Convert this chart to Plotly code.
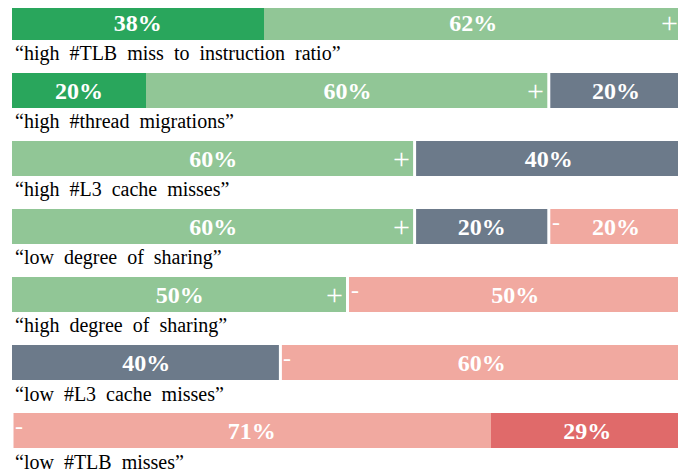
import plotly.graph_objects as go

categories = [
    "“high #TLB miss to instruction ratio”",
    "“high #thread migrations”",
    "“high #L3 cache misses”",
    "“low degree of sharing”",
    "“high degree of sharing”",
    "“low #L3 cache misses”",
    "“low #TLB misses”",
]
strong_pos = [37.5, 20, 0, 0, 0, 0, 0]
weak_pos = [62.5, 60, 60, 60, 50, 0, 0]
neutral = [0, 20, 40, 20, 0, 40, 0]
weak_neg = [0, 0, 0, 20, 50, 60, 71.43]
strong_neg = [0, 0, 0, 0, 0, 0, 28.57]

series = [
    ("strong +", strong_pos, "#29a65c"),
    ("weak +", weak_pos, "#91c696"),
    ("neutral", neutral, "#6c7a8a"),
    ("weak -", weak_neg, "#f1a9a0"),
    ("strong -", strong_neg, "#e06a6a"),
]

rows = list(range(len(categories)))
BAR_W = 0.515
FONT = "Liberation Serif"

fig = go.Figure()
for name, vals, col in series:
    fig.add_trace(go.Bar(
        y=rows, x=vals, orientation="h", name=name,
        marker=dict(color=col, line=dict(width=0)),
        width=BAR_W,
        text=[f"{round(v)}%" if v > 0 else "" for v in vals],
        texttemplate="<b>%{text}</b>",
        textposition="inside", insidetextanchor="middle",
        textangle=0,
        textfont=dict(family=FONT, size=24, color="white"),
        hoverinfo="skip",
    ))

shapes = []
annotations = []
for i in rows:
    pos_end = strong_pos[i] + weak_pos[i]
    neg_start = pos_end + neutral[i]
    has_pos = pos_end > 0
    has_neg = weak_neg[i] + strong_neg[i] > 0
    bounds = set()
    if has_pos:
        bounds.add(pos_end)
        annotations.append(dict(x=pos_end, y=i, xref="x", yref="y", text="+",
                                showarrow=False, xanchor="right", yanchor="middle",
                                xshift=-4, yshift=0, borderpad=0,
                                font=dict(family=FONT, size=30, color="white")))
    if has_neg:
        bounds.add(neg_start)
        annotations.append(dict(x=neg_start, y=i, xref="x", yref="y", text="-",
                                showarrow=False, xanchor="left", yanchor="middle",
                                xshift=2, yshift=5, borderpad=0,
                                font=dict(family=FONT, size=24, color="white")))
    for b in bounds:
        shapes.append(dict(type="line", xref="x", yref="y", x0=b, x1=b,
                           y0=i - BAR_W / 2, y1=i + BAR_W / 2,
                           line=dict(color="white", width=3)))
    label = categories[i].replace(" ", "\u00a0\u00a0")
    annotations.append(dict(x=0, y=i + 0.46, xref="paper", yref="y",
                            text=label, showarrow=False,
                            xanchor="left", yanchor="middle", xshift=1,
                            font=dict(family=FONT, size=20, color="black")))

# page body has an 8px margin, so the figure is sized to fit inside the window
fig.update_layout(
    barmode="stack",
    width=678, height=464,
    margin=dict(l=4, r=3, t=0, b=0),
    paper_bgcolor="white", plot_bgcolor="white",
    showlegend=False,
    xaxis=dict(range=[0, 100], visible=False, fixedrange=True),
    yaxis=dict(range=[6.610, -0.2132], visible=False, fixedrange=True),
    shapes=shapes,
    annotations=annotations,
)
fig.write_html("out.html")
